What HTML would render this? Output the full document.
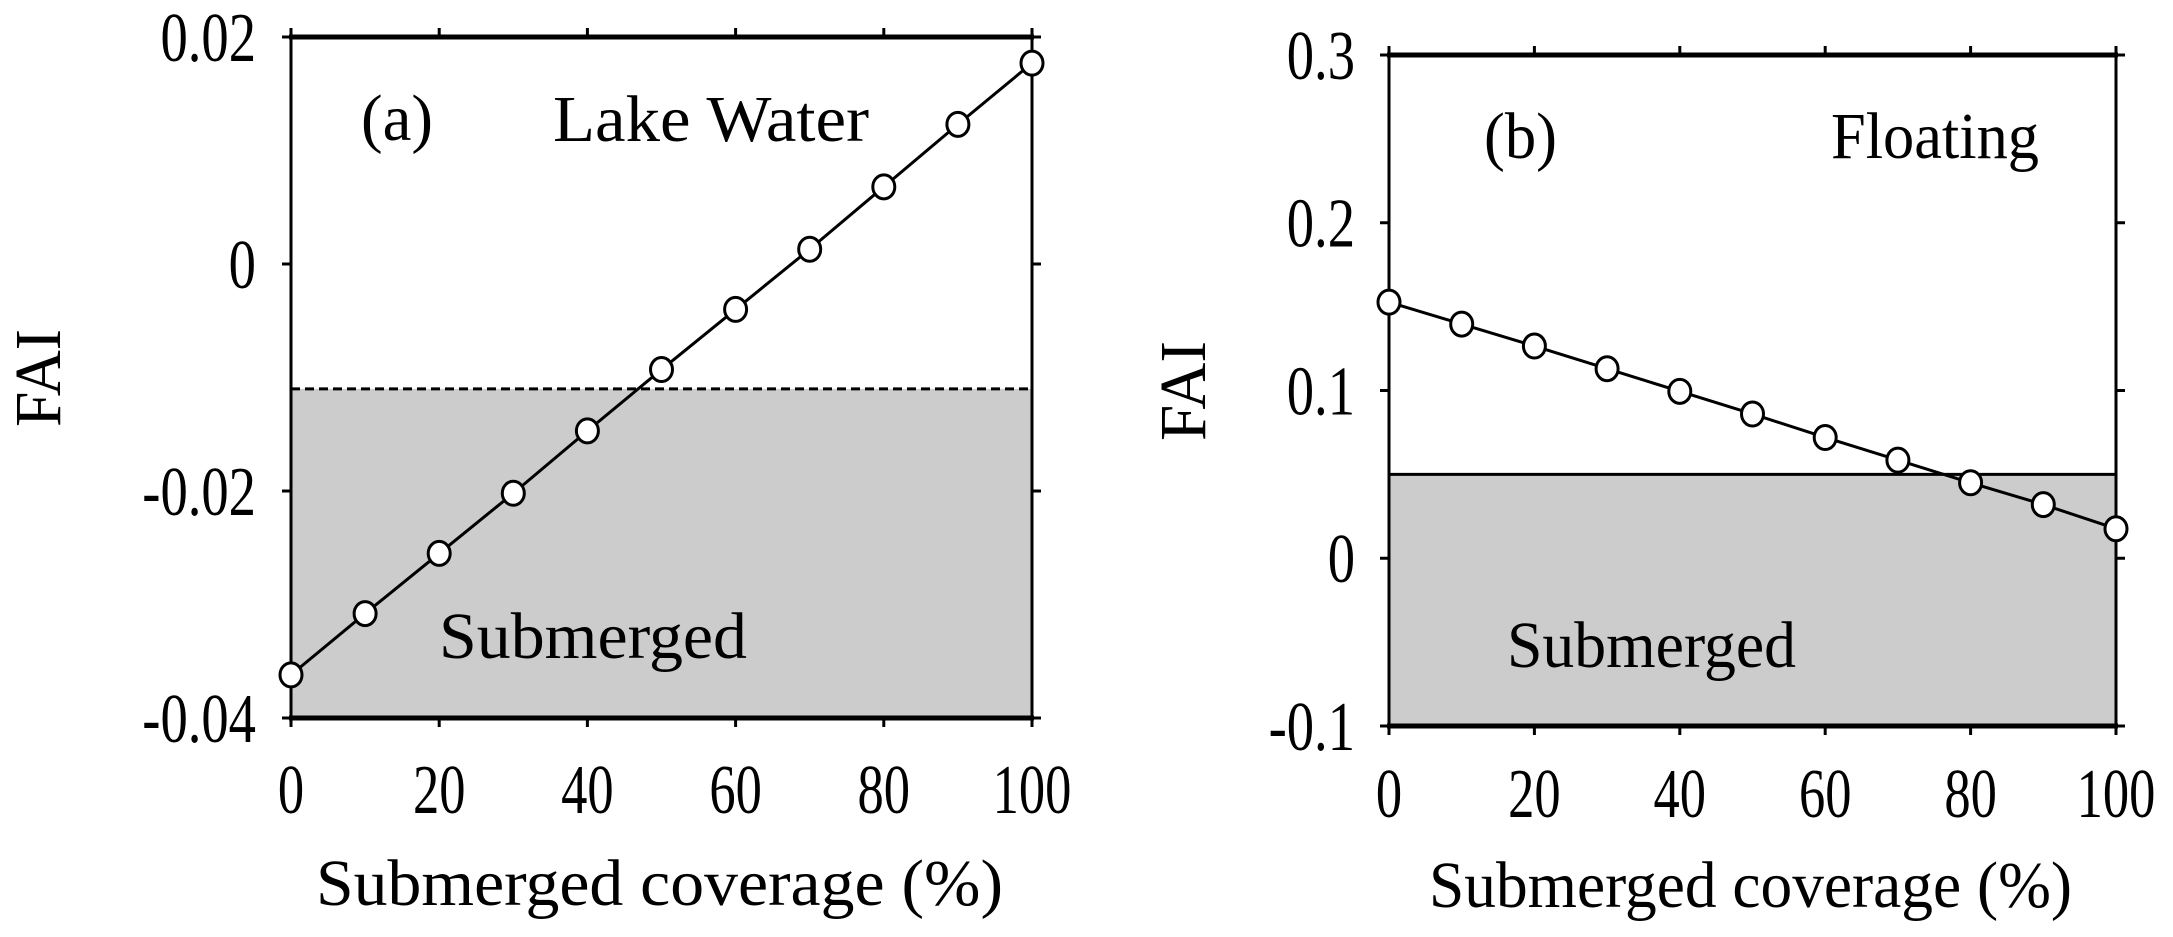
<!DOCTYPE html>
<html><head><meta charset="utf-8"><title>FAI vs Submerged coverage</title>
<style>
html,body{margin:0;padding:0;background:#fff;}
svg{display:block;font-family:"Liberation Serif","Times New Roman",serif;}
</style></head>
<body>
<svg id="fig" width="2173" height="937" viewBox="0 0 2173 937" xmlns="http://www.w3.org/2000/svg"></svg>
<script>
const coverage = [0,10,20,30,40,50,60,70,80,90,100];
const faiLake = [-0.0362,-0.0308,-0.0255,-0.0202,-0.0147,-0.0093,-0.0040,0.0013,0.0068,0.0123,0.0177];
const faiFloating = [0.1527,0.1396,0.1265,0.1130,0.0995,0.0860,0.0720,0.0585,0.0450,0.0320,0.0176];
const thresholdA = -0.011;
const thresholdB = 0.05;
const xTicks = [0,20,40,60,80,100];
const yTicksA = [0.02,0,-0.02,-0.04];
const yTickLabelsA = ["0.02","0","-0.02","-0.04"];
const yTicksB = [0.3,0.2,0.1,0,-0.1];
const yTickLabelsB = ["0.3","0.2","0.1","0","-0.1"];

const NS = "http://www.w3.org/2000/svg";
const svg = document.getElementById('fig');
function el(tag, attrs, parent, text){
  const e = document.createElementNS(NS, tag);
  for (const k in attrs) e.setAttribute(k, attrs[k]);
  if (text !== undefined) e.textContent = text;
  (parent||svg).appendChild(e);
  return e;
}

function panel(cfg){
  const g = el('g', {}, svg);
  
  
  const X = v => cfg.x0 + (v - 0) / 100 * (cfg.x1 - cfg.x0);
  const Y = v => cfg.y0 + (cfg.ymax - v) / (cfg.ymax - cfg.ymin) * (cfg.y1 - cfg.y0);
  const ty = Y(cfg.threshold);
  const sh = el('rect', {x:cfg.x0, y:ty, width:cfg.x1-cfg.x0, height:cfg.y1-ty, fill:'#cccccc'}, g);
  
  
  const tl = el('line', {x1:cfg.x0, x2:cfg.x1, y1:ty, y2:ty, stroke:'#000', 'stroke-width':3, 'stroke-dasharray': cfg.dashed ? '9,5' : 'none'}, g);
  
  
  el('line', {x1:cfg.x0-2, x2:cfg.x1+2, y1:cfg.y0, y2:cfg.y0, stroke:'#000','stroke-width':5}, g);
  el('line', {x1:cfg.x0-2, x2:cfg.x1+2, y1:cfg.y1, y2:cfg.y1, stroke:'#000','stroke-width':5}, g);
  el('line', {x1:cfg.x0, x2:cfg.x0, y1:cfg.y0, y2:cfg.y1, stroke:'#000','stroke-width':3}, g);
  el('line', {x1:cfg.x1, x2:cfg.x1, y1:cfg.y0, y2:cfg.y1, stroke:'#000','stroke-width':3}, g);
  xTicks.forEach(v => {
    const x = X(v);
    el('line', {x1:x, x2:x, y1:cfg.y1, y2:cfg.y1+9, stroke:'#000','stroke-width':3}, g);
    el('line', {x1:x, x2:x, y1:cfg.y0, y2:cfg.y0-9, stroke:'#000','stroke-width':3}, g);
    const t = el('text', {x:x, y:cfg.xLabelY, 'font-size':70, 'text-anchor':'middle', transform:`translate(${x} 0) scale(0.75 1) translate(${-x} 0)`}, g, String(v));
    
    
  });
  cfg.yTicks.forEach((v,i) => {
    const y = Y(v);
    el('line', {x1:cfg.x0-9, x2:cfg.x0, y1:y, y2:y, stroke:'#000','stroke-width':3}, g);
    el('line', {x1:cfg.x1, x2:cfg.x1+9, y1:y, y2:y, stroke:'#000','stroke-width':3}, g);
    const lx = cfg.yLabelRight;
    const t = el('text', {x:lx, y:y+24, 'font-size':70, 'text-anchor':'end', transform:`translate(${lx} 0) scale(0.78 1) translate(${-lx} 0)`}, g, cfg.yLabels[i]);
    
    
  });
  const pts = coverage.map((c,i) => X(c)+','+Y(cfg.values[i])).join(' ');
  const pl = el('polyline', {points:pts, fill:'none', stroke:'#000','stroke-width':3}, g);
  
  
  coverage.forEach((c,i) => {
    const m = el('ellipse', {cx:X(c), cy:Y(cfg.values[i]), rx:11, ry:12, fill:'#fff', stroke:'#000','stroke-width':3}, g);
    
    
  });
  return g;
}

panel({name:'panel-a', x0:291, x1:1032, y0:37, y1:718, ymin:-0.04, ymax:0.02, values:faiLake, threshold:thresholdA, dashed:true, yTicks:yTicksA, yLabels:yTickLabelsA, yLabelRight:256, xLabelY:813});
panel({name:'panel-b', x0:1389, x1:2116, y0:55, y1:726, ymin:-0.1, ymax:0.3, values:faiFloating, threshold:thresholdB, dashed:false, yTicks:yTicksB, yLabels:yTickLabelsB, yLabelRight:1355, xLabelY:817});

function label(txt, x, y, size, name, w, extra){
  const t = el('text', Object.assign({x:x, y:y, 'font-size':size}, extra||{}), svg, txt);
  if (w) { t.setAttribute('textLength', w); t.setAttribute('lengthAdjust','spacingAndGlyphs'); }
  
  
  return t;
}
label('(a)', 361, 140, 66, 'panel-a-label', 72);
label('Lake Water', 553, 141, 66, 'lake-water-label', 316);
label('Submerged', 439, 658, 66, 'submerged-label-a', 308);
label('(b)', 1484, 158, 66, 'panel-b-label', 73);
label('Floating', 1831, 158, 66, 'floating-label', 208);
label('Submerged', 1507, 667, 66, 'submerged-label-b', 289);
label('Submerged coverage (%)', 316, 905, 66, 'x-axis-title-a', 687);
label('Submerged coverage (%)', 1429, 907, 66, 'x-axis-title-b', 643);
label('FAI', 0, 0, 66, 'y-axis-title-a', 98, {transform:'translate(60 427) rotate(-90)'});
label('FAI', 0, 0, 66, 'y-axis-title-b', 100, {transform:'translate(1205 441) rotate(-90)'});
</script>
</body></html>
